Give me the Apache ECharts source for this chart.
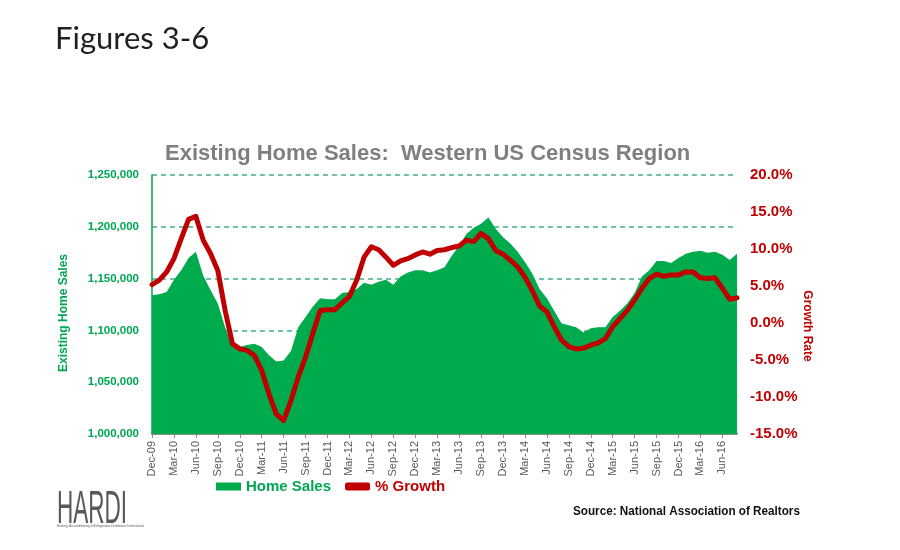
<!DOCTYPE html>
<html>
<head>
<meta charset="utf-8">
<title>Existing Home Sales: Western US Census Region</title>
<script src="https://cdn.jsdelivr.net/npm/echarts@6/dist/echarts.min.js"></script>
<style>
  html, body { margin: 0; padding: 0; background: #fff; }
  #chart { width: 900px; height: 550px; }
</style>
</head>
<body>
<div id="chart"></div>
<script>
// --- Data (monthly Dec-09 .. Aug-16) ---
const months = [
  "Dec-09",
  "Jan-10", "Feb-10", "Mar-10", "Apr-10", "May-10", "Jun-10", "Jul-10", "Aug-10", "Sep-10", "Oct-10", "Nov-10", "Dec-10",
  "Jan-11", "Feb-11", "Mar-11", "Apr-11", "May-11", "Jun-11", "Jul-11", "Aug-11", "Sep-11", "Oct-11", "Nov-11", "Dec-11",
  "Jan-12", "Feb-12", "Mar-12", "Apr-12", "May-12", "Jun-12", "Jul-12", "Aug-12", "Sep-12", "Oct-12", "Nov-12", "Dec-12",
  "Jan-13", "Feb-13", "Mar-13", "Apr-13", "May-13", "Jun-13", "Jul-13", "Aug-13", "Sep-13", "Oct-13", "Nov-13", "Dec-13",
  "Jan-14", "Feb-14", "Mar-14", "Apr-14", "May-14", "Jun-14", "Jul-14", "Aug-14", "Sep-14", "Oct-14", "Nov-14", "Dec-14",
  "Jan-15", "Feb-15", "Mar-15", "Apr-15", "May-15", "Jun-15", "Jul-15", "Aug-15", "Sep-15", "Oct-15", "Nov-15", "Dec-15",
  "Jan-16", "Feb-16", "Mar-16", "Apr-16", "May-16", "Jun-16", "Jul-16", "Aug-16"
];

const homeSales = [
  1134000,
  1135000, 1137000, 1149000, 1158000, 1170000, 1176000, 1153000, 1139000, 1126000, 1103000, 1085000, 1084000,
  1086000, 1087000, 1084000, 1076000, 1070000, 1071000, 1080000, 1103000, 1113000, 1123000, 1131000, 1130000,
  1130000, 1136000, 1137000, 1140000, 1146000, 1144000, 1147000, 1149000, 1144000, 1152000, 1156000, 1158000,
  1158000, 1156000, 1158000, 1161000, 1172000, 1182000, 1193000, 1199000, 1203000, 1209000, 1198000, 1190000,
  1184000, 1176000, 1166000, 1155000, 1140000, 1131000, 1119000, 1107000, 1105000, 1103000, 1098000, 1102000,
  1103000, 1103000, 1113000, 1119000, 1126000, 1136000, 1152000, 1158000, 1167000, 1167000, 1165000, 1170000,
  1174000, 1176000, 1177000, 1175000, 1176000, 1173000, 1168000, 1174000
];

const growthPct = [
  5.2,
  5.8, 6.9, 8.7, 11.4, 14.0, 14.4, 11.2, 9.4, 7.1, 1.7, -2.8, -3.5,
  -3.7, -4.4, -6.4, -9.6, -12.3, -13.2, -10.5, -7.3, -4.6, -1.4, 1.7, 1.8,
  1.8, 2.7, 3.6, 5.8, 8.9, 10.3, 9.9, 8.9, 7.8, 8.4, 8.7, 9.2,
  9.6, 9.3, 9.8, 9.9, 10.2, 10.4, 11.2, 11.0, 12.1, 11.4, 9.8, 9.3,
  8.5, 7.6, 6.2, 4.4, 2.3, 1.5, -0.5, -2.3, -3.2, -3.5, -3.4, -3.0,
  -2.7, -2.1, -0.5, 0.6, 1.7, 3.1, 4.7, 6.0, 6.6, 6.3, 6.5, 6.5,
  6.9, 6.9, 6.1, 6.0, 6.1, 4.7, 3.2, 3.4
];

// --- Look ---
const GREEN = "#00ab4e";
const GREEN_TEXT = "#00a651";
const RED = "#c00000";
const FONT = "'Liberation Sans', Arial, sans-serif";

const chart = echarts.init(document.getElementById("chart"), null, { renderer: "canvas" });

chart.setOption({
  animation: false,
  title: {
    text: "Existing Home Sales:  Western US Census Region",
    left: 160,
    top: 138,
    textStyle: { color: "#7f7f7f", fontSize: 22, fontWeight: "bold", fontFamily: FONT }
  },
  legend: {
    left: 216,
    top: 479,
    padding: 0,
    itemWidth: 25,
    itemHeight: 8,
    itemGap: 14,
    textStyle: { fontSize: 15, fontWeight: "bold", fontFamily: FONT },
    data: [
      { name: "Home Sales", icon: "rect", textStyle: { color: GREEN_TEXT } },
      { name: "% Growth", icon: "roundRect", textStyle: { color: RED } }
    ]
  },
  grid: { left: 152, right: 163, top: 175, bottom: 116, outerBoundsMode: "none" },
  xAxis: {
    type: "category",
    data: months,
    boundaryGap: false,
    axisLine: { onZero: false, lineStyle: { color: "#8c8c8c", width: 2 } },
    axisTick: { interval: 2, length: 4, lineStyle: { color: "#8c8c8c" } },
    axisLabel: { interval: 2, rotate: 90, margin: 7, fontSize: 11, color: "#595959", fontFamily: FONT },
    splitLine: { show: false }
  },
  yAxis: [
    {
      type: "value",
      min: 1000000,
      max: 1250000,
      interval: 50000,
      axisLine: { show: true, lineStyle: { color: GREEN, width: 1.5 } },
      axisTick: { show: false },
      axisLabel: {
        margin: 13,
        fontSize: 11.5,
        fontWeight: "bold",
        color: GREEN_TEXT,
        fontFamily: FONT,
        formatter: (v) => v.toLocaleString("en-US")
      },
      splitLine: { lineStyle: { color: "#47ad8c", type: [5, 4], width: 1.5 } }
    },
    {
      type: "value",
      position: "right",
      min: -15,
      max: 20,
      interval: 5,
      axisLine: { show: false },
      axisTick: { show: false },
      axisLabel: {
        margin: 13,
        fontSize: 15,
        fontWeight: "bold",
        color: RED,
        fontFamily: FONT,
        formatter: (v) => v.toFixed(1) + "%"
      },
      splitLine: { show: false }
    }
  ],
  series: [
    {
      name: "Home Sales",
      type: "line",
      yAxisIndex: 0,
      data: homeSales,
      showSymbol: false,
      itemStyle: { color: GREEN },
      lineStyle: { width: 0 },
      areaStyle: { color: GREEN, opacity: 1 },
      z: 2
    },
    {
      name: "% Growth",
      type: "line",
      yAxisIndex: 1,
      data: growthPct,
      showSymbol: false,
      itemStyle: { color: RED },
      lineStyle: { color: RED, width: 5, cap: "round", join: "round" },
      z: 3
    }
  ],
  graphic: [
    {
      type: "text",
      left: 55,
      top: 23,
      style: { text: "Figures 3-6", font: "31px Lato, 'Open Sans', sans-serif", fill: "#231f20" }
    },
    {
      type: "text",
      x: 64,
      y: 313,
      rotation: Math.PI / 2,
      style: {
        text: "Existing Home Sales",
        font: "bold 12px " + FONT,
        fill: GREEN_TEXT,
        align: "center",
        verticalAlign: "middle",
        textAlign: "center",
        textVerticalAlign: "middle"
      }
    },
    {
      type: "text",
      x: 807,
      y: 326,
      rotation: -Math.PI / 2,
      style: {
        text: "Growth Rate",
        font: "bold 12px " + FONT,
        fill: RED,
        align: "center",
        verticalAlign: "middle",
        textAlign: "center",
        textVerticalAlign: "middle"
      }
    },
    {
      type: "text",
      x: 57,
      y: 487,
      scaleX: 0.49,
      style: { text: "HARDI", font: "46px " + FONT, fill: "#58595b" }
    },
    {
      type: "text",
      x: 57,
      y: 525,
      style: {
        text: "Heating, Air-conditioning & Refrigeration Distributors International",
        font: "3px " + FONT,
        fill: "#58595b"
      }
    },
    {
      type: "text",
      x: 573,
      y: 505,
      scaleX: 0.9,
      style: { text: "Source: National Association of Realtors", font: "bold 13px " + FONT, fill: "#111" }
    }
  ]
});
</script>
</body>
</html>
